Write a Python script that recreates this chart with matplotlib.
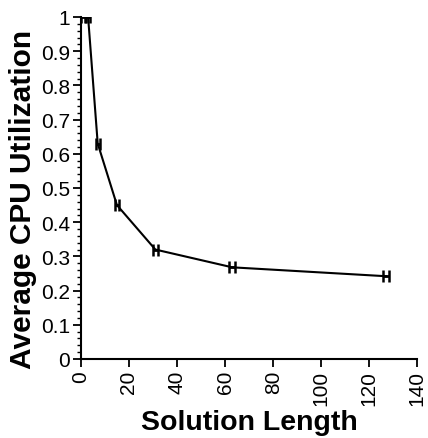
import matplotlib
matplotlib.use("Agg")
import matplotlib.pyplot as plt
from matplotlib.ticker import MultipleLocator

# data
solution_length = [1, 3, 7, 15, 31, 63, 127]
cpu_util = [1.0, 1.0, 0.63, 0.45, 0.32, 0.268, 0.242]
x_err = [0.8, 0.8, 0.9, 0.9, 1.0, 1.2, 1.4]

plt.rcParams["font.family"] = ["Liberation Sans", "DejaVu Sans"]

fig = plt.figure(figsize=(4.28, 4.39), dpi=100)
ax = fig.add_axes([0.189, 0.18, 0.786, 0.779])

ax.errorbar(solution_length, cpu_util, xerr=x_err, color="black", lw=1.5,
            elinewidth=2, capsize=4.5, capthick=1.8)

ax.set_xlim(0, 140)
ax.set_ylim(0, 1.0)
ax.xaxis.set_major_locator(MultipleLocator(20))
ax.yaxis.set_minor_locator(MultipleLocator(0.02))
ax.set_yticks([0, 0.1, 0.2, 0.3, 0.4, 0.5, 0.6, 0.7, 0.8, 0.9, 1.0])
ax.set_yticklabels(["0", "0.1", "0.2", "0.3", "0.4", "0.5", "0.6", "0.7", "0.8", "0.9", "1"])

for side in ["top", "right"]:
    ax.spines[side].set_visible(False)
for side in ["left", "bottom"]:
    ax.spines[side].set_linewidth(1.5)

ax.tick_params(axis="both", which="major", labelsize=15, length=6, width=1.3, pad=2)
ax.tick_params(axis="y", which="minor", length=3, width=1)
ax.tick_params(axis="x", labelrotation=90)

ax.set_xlabel("Solution Length", fontsize=20.5, fontweight="bold", labelpad=3)
ax.set_ylabel("Average CPU Utilization", fontsize=21.5, fontweight="bold")
ax.yaxis.set_label_coords(-0.13, 0.47)

fig.savefig("out.png", dpi=100)
